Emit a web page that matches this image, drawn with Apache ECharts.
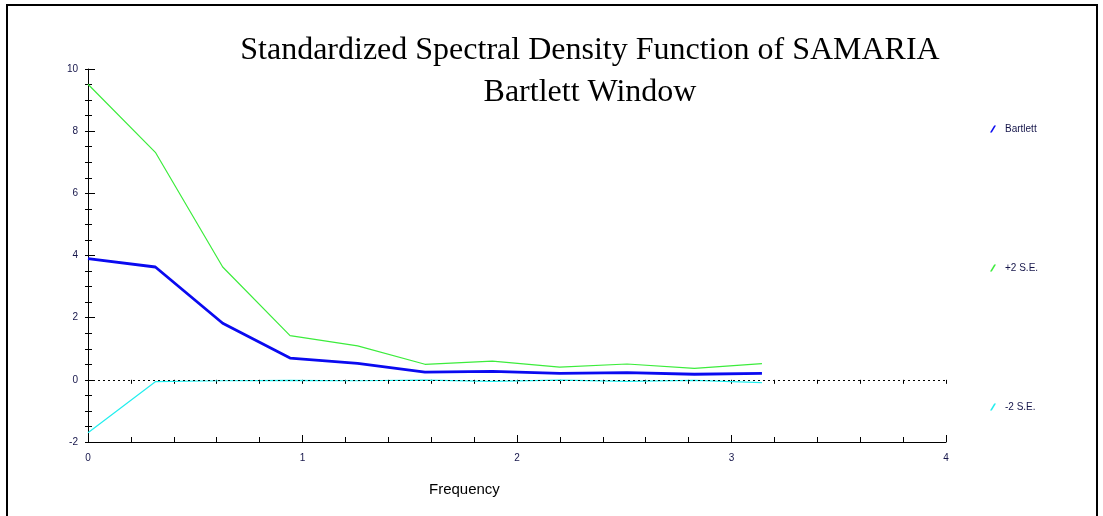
<!DOCTYPE html>
<html>
<head>
<meta charset="utf-8">
<script src="https://cdn.jsdelivr.net/npm/echarts@6/dist/echarts.min.js"></script>
<style>
  html, body { margin: 0; padding: 0; background: #fff; }
  #chart { width: 1103px; height: 516px; }
</style>
</head>
<body>
<div id="chart"></div>
<script>
// Frequencies k*pi/10, k = 0..10
const frequency = [0, 0.314, 0.628, 0.942, 1.257, 1.571, 1.885, 2.199, 2.513, 2.827, 3.142];
// Standardized spectral density (Bartlett window) and +/- 2 standard error bands
const bartlett = [3.90, 3.63, 1.82, 0.70, 0.53, 0.25, 0.27, 0.21, 0.23, 0.18, 0.21];
const plus2SE  = [9.51, 7.32, 3.63, 1.42, 1.09, 0.50, 0.60, 0.41, 0.51, 0.37, 0.52];
const minus2SE = [-1.70, -0.06, -0.03, -0.02, -0.03, -0.01, -0.05, -0.01, -0.05, -0.02, -0.09];
const seriesNames = ['Bartlett', '+2 S.E.', '-2 S.E.'];
const yTicks = [-2, 0, 2, 4, 6, 8, 10];
const xTicks = [0, 1, 2, 3, 4];

const pairs = arr => frequency.map((f, i) => [f, arr[i]]);

const labelColor = '#15154a';
const grid = { left: 88, right: 157, top: 69, bottom: 74 };
const slash = 'path://M7,0 L10,0 L3,12 L0,12 Z';

const chart = echarts.init(document.getElementById('chart'), null, { renderer: 'canvas' });
chart.setOption({
  animation: false,
  backgroundColor: '#fff',
  title: {
    text: 'Standardized Spectral Density Function of SAMARIA\nBartlett Window',
    left: 590,
    top: 30,
    padding: 0,
    textAlign: 'center',
    textStyle: {
      fontFamily: 'Liberation Serif, Times New Roman, serif',
      fontSize: 32,
      fontWeight: 'normal',
      color: '#000',
      lineHeight: 42
    }
  },
  legend: seriesNames.map((name, i) => ({
    data: [name],
    orient: 'vertical',
    left: 990,
    top: 124 + i * 139,
    padding: 0,
    icon: slash,
    itemWidth: 6,
    itemHeight: 9,
    itemGap: 0,
    selectedMode: false,
    textStyle: { fontFamily: 'Liberation Sans, Arial, sans-serif', fontSize: 10, color: labelColor, padding: [0, 0, 0, 4] }
  })),
  grid: grid,
  xAxis: [
    {
      type: 'value', min: 0, max: 4, interval: 1,
      axisLine: { show: true, onZero: false, lineStyle: { color: '#000', width: 1 } },
      axisTick: { show: true, inside: true, length: 7, lineStyle: { color: '#000' } },
      minorTick: { show: true, splitNumber: 5, length: 5, lineStyle: { color: '#000' } },
      axisLabel: { margin: 11, fontFamily: 'Liberation Sans, Arial, sans-serif', fontSize: 10, color: labelColor,
        formatter: v => xTicks.includes(v) ? String(v) : '' },
      splitLine: { show: false }
    },
    {
      type: 'value', min: 0, max: 4, interval: 1, position: 'bottom',
      axisLine: { show: false },
      axisTick: { show: true, inside: false, length: 4, lineStyle: { color: '#000' } },
      minorTick: { show: true, splitNumber: 5, length: 4, lineStyle: { color: '#000' } },
      axisLabel: { show: false },
      splitLine: { show: false }
    }
  ],
  yAxis: [
    {
      type: 'value', min: -2, max: 10, interval: 2,
      axisLine: { show: true, onZero: false, lineStyle: { color: '#000', width: 1 } },
      axisTick: { show: true, inside: true, length: 7, lineStyle: { color: '#000' } },
      minorTick: { show: true, splitNumber: 4, length: 4, lineStyle: { color: '#000' } },
      axisLabel: { margin: 10, fontFamily: 'Liberation Sans, Arial, sans-serif', fontSize: 10, color: labelColor,
        formatter: v => yTicks.includes(v) ? String(v) : '' },
      splitLine: { show: false }
    },
    {
      type: 'value', min: -2, max: 10, interval: 2, position: 'left',
      axisLine: { show: false },
      axisTick: { show: true, inside: false, length: 3, lineStyle: { color: '#000' } },
      minorTick: { show: true, splitNumber: 4, length: 3, lineStyle: { color: '#000' } },
      axisLabel: { show: false },
      splitLine: { show: false }
    }
  ],
  series: [
    {
      name: '+2 S.E.', type: 'line', data: pairs(plus2SE), showSymbol: false, symbol: 'none',
      itemStyle: { color: '#3cec3c' }, lineStyle: { color: '#3cec3c', width: 1.2 }, z: 2
    },
    {
      name: '-2 S.E.', type: 'line', data: pairs(minus2SE), showSymbol: false, symbol: 'none',
      itemStyle: { color: '#22eeee' }, lineStyle: { color: '#22eeee', width: 1.2 }, z: 2
    },
    {
      name: 'Bartlett', type: 'line', data: pairs(bartlett), showSymbol: false, symbol: 'none',
      itemStyle: { color: '#0a0af0' }, lineStyle: { color: '#0a0af0', width: 2.8 }, z: 3,
      markLine: {
        silent: true, symbol: 'none', label: { show: false },
        lineStyle: { color: '#000', type: [2, 3], width: 1 },
        data: [{ yAxis: 0 }],
        z: 5
      }
    }
  ],
  graphic: [
    {
      type: 'rect', silent: true,
      shape: { x: 7, y: 5, width: 1090, height: 530 },
      style: { fill: 'none', stroke: '#000', lineWidth: 2 }
    },
    {
      type: 'text', left: 429, top: 482, silent: true,
      style: { text: 'Frequency', fontFamily: 'Liberation Sans, Arial, sans-serif', fontSize: 15, fill: '#000' }
    }
  ]
});
</script>
</body>
</html>
